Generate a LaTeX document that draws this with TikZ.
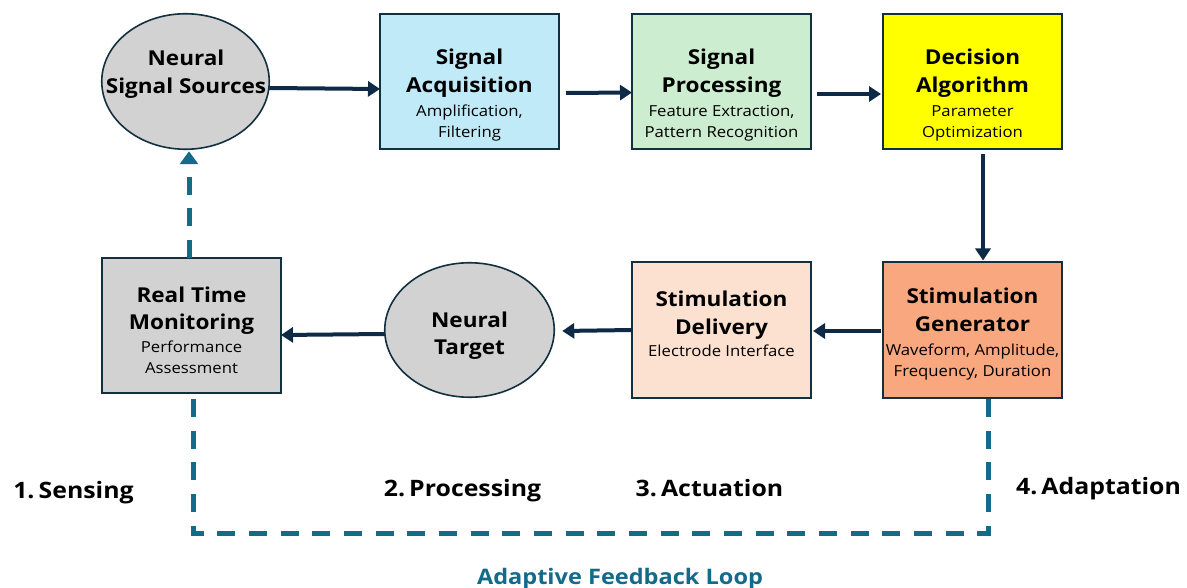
\documentclass[tikz,border=0pt]{standalone}
\usepackage{fontspec}
\setmainfont{Open Sans}[FakeStretch=1.1]
\usetikzlibrary{arrows.meta,shapes.geometric}
\definecolor{navy}{HTML}{0E2A47}
\definecolor{boxline}{HTML}{13303F}
\definecolor{teal1}{HTML}{136A8A}
\definecolor{greyfill}{HTML}{D2D2D2}
\definecolor{cyanfill}{HTML}{C0EAF8}
\definecolor{greenfill}{HTML}{CDEDD0}
\definecolor{yellowfill}{HTML}{FFFF00}
\definecolor{orangefill}{HTML}{F9A77E}
\definecolor{peachfill}{HTML}{FCE0D0}
\newcommand\ttlfont{\fontsize{20.5}{28}\selectfont\bfseries}
\newcommand\mysubfont{\fontsize{15.2}{21}\selectfont}
\newcommand\titl[1]{\hbox to 240pt{\hss\ttlfont #1\hss}}
\newcommand\subl[1]{\hbox to 240pt{\hss\mysubfont #1\hss}}
\newcommand\bskip[1]{\baselineskip=#1pt\relax}
\begin{document}
\begin{tikzpicture}[x=1pt,y=-1pt,
  blk/.style={draw=boxline, line width=2pt, minimum width=179pt, minimum height=135pt, inner sep=0pt, outer sep=0pt},
  ell/.style={ellipse, draw=boxline, line width=1.6pt, fill=greyfill, inner sep=0pt, outer sep=0pt},
  arr/.style={line width=4pt, draw=navy, -{Triangle[length=12pt,width=15pt]}},
  fb/.style={line width=5pt, draw=teal1, dash pattern=on 18pt off 13.67pt},
  fbarr/.style={fb, -{Triangle[length=13pt,width=18pt]}},
  txt/.style={anchor=base, inner sep=0pt, text=black},
  lbl/.style={anchor=base, inner sep=0pt, font=\fontsize{22.6}{26}\selectfont\bfseries},
]
\useasboundingbox (0,0) rectangle (1187,588);
\fill[white] (0,0) rectangle (1187,588);

% shapes
\node[ell, minimum width=167.5pt, minimum height=135.5pt] (nss) at (185.5,81.5) {};
\node[blk, fill=cyanfill]   (sa)  at (469.5,81.5) {};
\node[blk, fill=greenfill]  (sp)  at (721.5,81.5) {};
\node[blk, fill=yellowfill] (da)  at (972.5,81.5) {};
\node[blk, fill=greyfill]   (rtm) at (191.5,325.5) {};
\node[ell, minimum width=169.5pt, minimum height=134.5pt] (nt) at (469.5,330) {};
\node[blk, fill=peachfill]  (sd)  at (721.5,330) {};
\node[blk, fill=orangefill] (sg)  at (972.5,330) {};

% texts
\node[txt] (nss-t) at (186,66) {\vtop{\lineskiplimit=-1000pt\bskip{28}\titl{Neural}\titl{Signal Sources}}};
\node[txt] (sa-t) at (469.5,65) {\vtop{\lineskiplimit=-1000pt\bskip{28}\titl{Signal}\titl{Acquisition}\bskip{24}\subl{Amplification,}\bskip{21}\subl{Filtering}}};
\node[txt] (sp-t) at (721.5,65) {\vtop{\lineskiplimit=-1000pt\bskip{28}\titl{Signal}\titl{Processing}\bskip{24}\subl{Feature Extraction,}\bskip{21}\subl{Pattern Recognition}}};
\node[txt] (da-t) at (972.5,65) {\vtop{\lineskiplimit=-1000pt\bskip{28}\titl{Decision}\titl{Algorithm}\bskip{24}\subl{Parameter}\bskip{21}\subl{Optimization}}};
\node[txt] (rtm-t) at (191.5,302) {\vtop{\lineskiplimit=-1000pt\bskip{28}\titl{Real Time}\titl{Monitoring}\bskip{23}\subl{Performance}\bskip{21}\subl{Assessment}}};
\node[txt] (nt-t) at (469.5,327) {\vtop{\lineskiplimit=-1000pt\bskip{28}\titl{Neural}\titl{Target}}};
\node[txt] (sd-t) at (721.5,307) {\vtop{\lineskiplimit=-1000pt\bskip{28}\titl{Stimulation}\titl{Delivery}\bskip{22}\subl{Electrode Interface}}};
\node[txt] (sg-t) at (972.5,304) {\vtop{\lineskiplimit=-1000pt\bskip{28}\titl{Stimulation}\titl{Generator}\bskip{24}\subl{Waveform, Amplitude,}\bskip{21}\subl{Frequency, Duration}}};

% solid connectors
\draw[arr] ([yshift=-6.5pt]nss.east) -- ([yshift=-7.5pt]sa.west);
\draw[arr] ([xshift=7pt,yshift=-11.5pt]sa.east) -- ([yshift=-11pt]sp.west);
\draw[arr] ([xshift=6pt,yshift=-12.5pt]sp.east) -- ([xshift=-2pt,yshift=-12.5pt]da.west);
\draw[arr] ([xshift=10.5pt,yshift=-5pt]da.south) -- ([xshift=10.5pt,yshift=2pt]sg.north);
\draw[arr] ([xshift=-2pt,yshift=-1pt]sg.west) -- ([xshift=2pt,yshift=-1pt]sd.east);
\draw[arr] (sd.west) -- ([xshift=8pt,yshift=-1pt]nt.east);
\draw[arr] ([yshift=-4pt]nt.west) -- ([yshift=-9.5pt]rtm.east);

% feedback loop
\draw[fbarr] ([xshift=-2.5pt]rtm.north) -- ([xshift=3.5pt,yshift=-2pt]nss.south);
\draw[fb] ([xshift=1.5pt,yshift=-6pt]rtm.south) -- ++(0,134) -| ([xshift=15.5pt,yshift=-1.5pt]sg.south);

% labels
\node[lbl] (l1) at (73.5,498) {1.\hspace{0.18em}Sensing};
\node[lbl] (l2) at (462.5,496) {2.\hspace{0.18em}Processing};
\node[lbl] (l3) at (709.5,496) {3.\hspace{0.18em}Actuation};
\node[lbl] (l4) at (1098.5,494) {4.\hspace{0.18em}Adaptation};
\node[anchor=base, inner sep=0pt, text=teal1, font=\fontsize{21.4}{26}\selectfont\bfseries] (loop) at (620,584) {Adaptive Feedback Loop};
\end{tikzpicture}
\end{document}
